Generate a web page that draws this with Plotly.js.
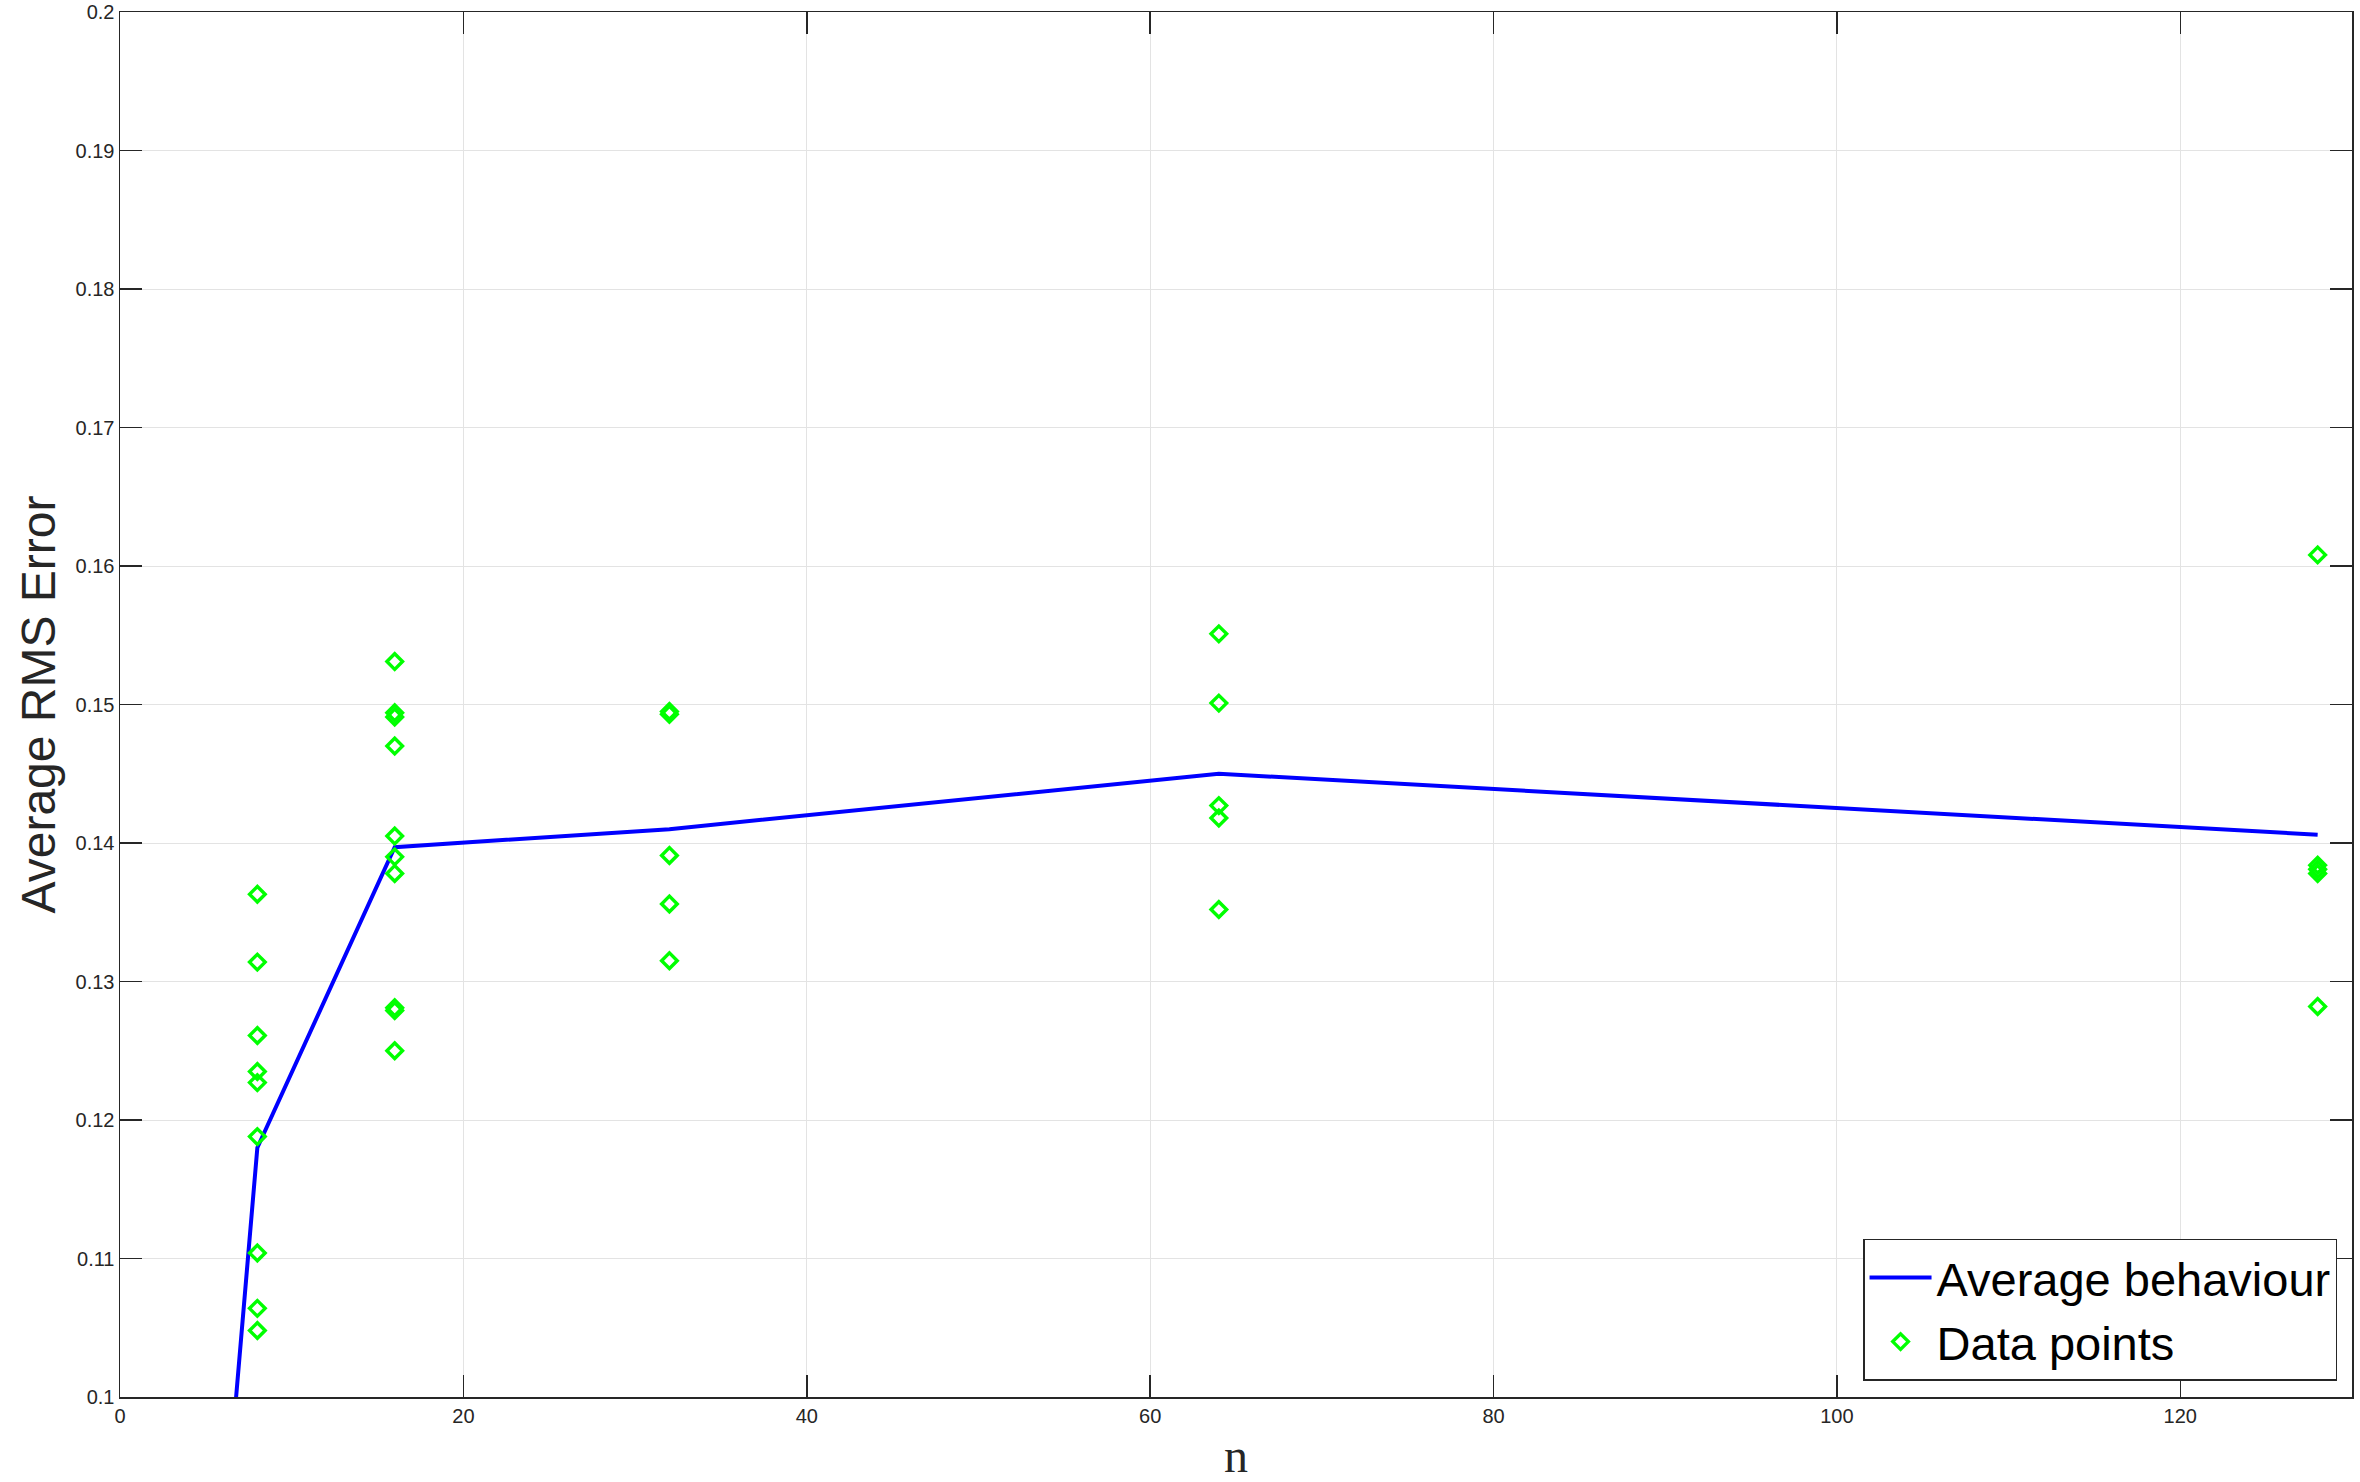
<!DOCTYPE html>
<html>
<head>
<meta charset="utf-8">
<script src="https://cdn.plot.ly/plotly-3.0.1.min.js"></script>
<style>
    html, body { margin: 0; padding: 0; background: #ffffff; }
    #rms-chart { width: 2360px; height: 1482px; }
</style>
</head>
<body>
<div id="rms-chart"></div>
<script>
// =========================================================================
// Average RMS error against n, with the individual runs as open diamonds
// =========================================================================

// Average behaviour (the first point sits below the visible range)
const avgN = [4, 8, 16, 32, 64, 128];
const avgRms = [0.0598, 0.1180, 0.1397, 0.1410, 0.1450, 0.1406];

// Data points, one entry per run
const pointN = [
    8, 8, 8, 8, 8, 8, 8, 8, 8,
    16, 16, 16, 16, 16, 16, 16, 16, 16, 16,
    32, 32, 32, 32, 32,
    64, 64, 64, 64, 64,
    128, 128, 128, 128, 128
];
const pointRms = [
    0.1363, 0.1314, 0.1261, 0.1235, 0.1227, 0.1188, 0.1104, 0.1064, 0.1048,
    0.1531, 0.1494, 0.1491, 0.1470, 0.1405, 0.1390, 0.1378, 0.1281, 0.1279, 0.1250,
    0.1495, 0.1493, 0.1391, 0.1356, 0.1315,
    0.1551, 0.1501, 0.1427, 0.1418, 0.1352,
    0.1608, 0.1384, 0.1381, 0.1378, 0.1282
];

// Axis ticks
const xTickVals = [0, 20, 40, 60, 80, 100, 120];
const yTickVals = [0.1, 0.11, 0.12, 0.13, 0.14, 0.15, 0.16, 0.17, 0.18, 0.19, 0.2];
const yTickText = ["0.1", "0.11", "0.12", "0.13", "0.14", "0.15", "0.16", "0.17", "0.18", "0.19", "0.2"];

// =========================================================================

const axisColor = "#262626";
const sans = "Liberation Sans, Arial, Helvetica, sans-serif";

const data = [
    {
        name: "Average behaviour",
        x: avgN,
        y: avgRms,
        type: "scatter",
        mode: "lines",
        line: {
            color: "#0000FF",
            width: 4
        }
    },
    {
        name: "Data points",
        x: pointN,
        y: pointRms,
        type: "scatter",
        mode: "markers",
        marker: {
            symbol: "diamond-open",
            size: 12,
            color: "#00FF00",
            line: {
                color: "#00FF00",
                width: 3.4
            }
        }
    }
];

const layout = {
    width: 2360,
    height: 1482,
    paper_bgcolor: "#ffffff",
    plot_bgcolor: "#ffffff",
    margin: { l: 120, r: 8, t: 12, b: 85 },
    font: { family: sans, color: axisColor },
    xaxis: {
        range: [0, 130],
        tickmode: "array",
        tickvals: xTickVals,
        ticks: "inside",
        ticklen: 22,
        tickwidth: 1.5,
        tickcolor: axisColor,
        showline: true,
        linecolor: axisColor,
        linewidth: 1.5,
        mirror: "ticks",
        showgrid: true,
        gridcolor: "#e3e3e3",
        gridwidth: 1,
        zeroline: false,
        tickfont: { size: 20, family: sans, color: axisColor },
        automargin: false,
        title: {
            text: "n",
            font: { size: 48, family: "Liberation Serif, Times New Roman, serif", color: axisColor },
            standoff: 14
        }
    },
    yaxis: {
        range: [0.1, 0.2],
        tickmode: "array",
        tickvals: yTickVals,
        ticktext: yTickText,
        ticks: "inside",
        ticklen: 22,
        tickwidth: 1.5,
        tickcolor: axisColor,
        showline: true,
        linecolor: axisColor,
        linewidth: 1.5,
        mirror: "ticks",
        showgrid: true,
        gridcolor: "#e3e3e3",
        gridwidth: 1,
        zeroline: false,
        tickfont: { size: 20, family: sans, color: axisColor },
        automargin: false,
        title: {
            text: "Average RMS Error",
            font: { size: 48, family: sans, color: axisColor },
            standoff: 5
        }
    },
    showlegend: true,
    legend: {
        x: 0.9933,
        xanchor: "right",
        y: 0.0116,
        yanchor: "bottom",
        bgcolor: "#ffffff",
        bordercolor: axisColor,
        borderwidth: 1.5,
        itemwidth: 62,
        font: { size: 47, family: sans, color: "#000000" }
    },
    hovermode: "closest"
};

const config = {
    staticPlot: true,
    displaylogo: false
};

Plotly.newPlot("rms-chart", data, layout, config);
</script>
</body>
</html>
